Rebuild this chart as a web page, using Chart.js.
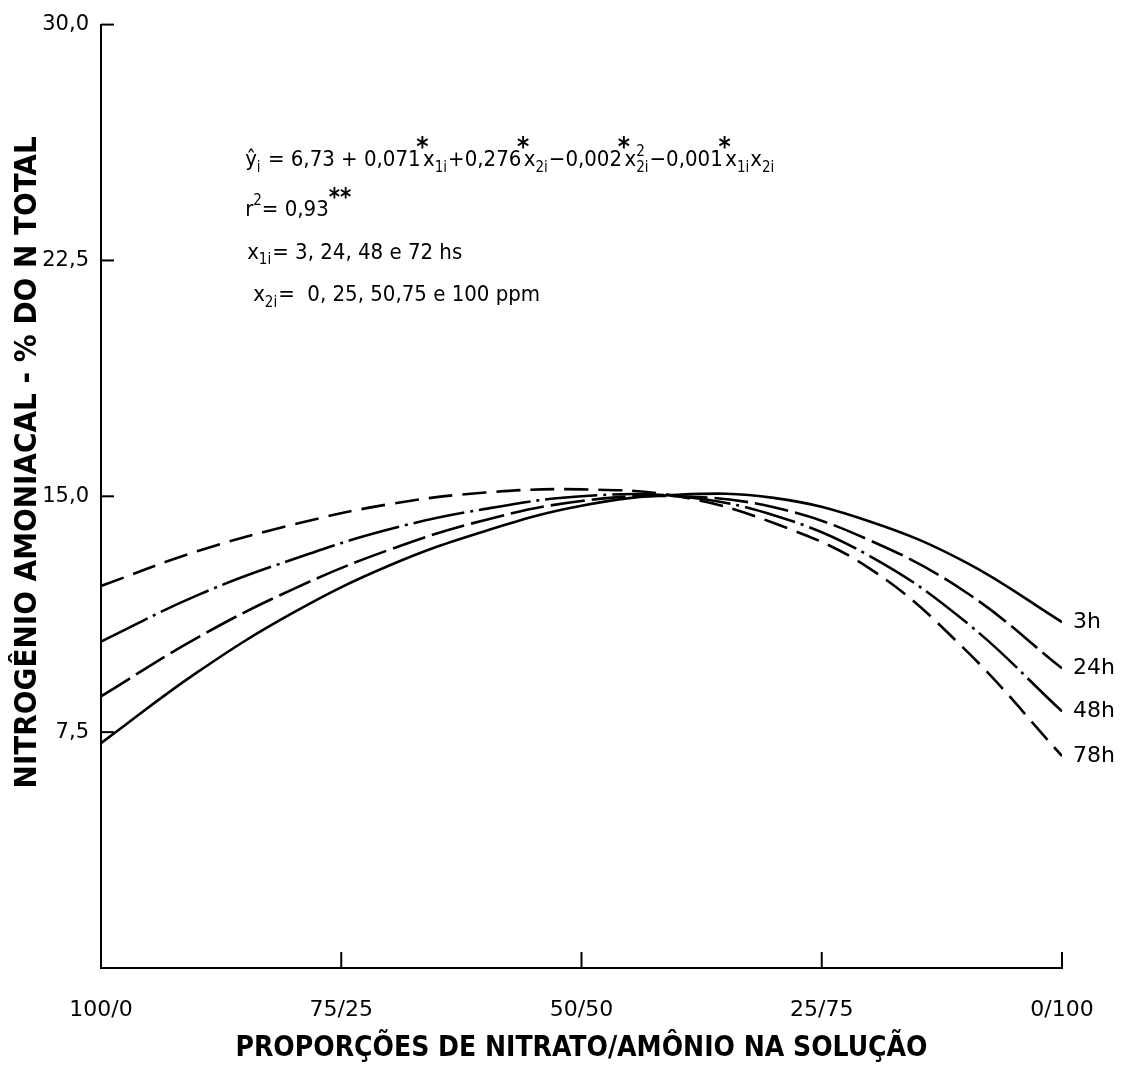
<!DOCTYPE html>
<html><head><meta charset="utf-8">
<script src="https://cdn.jsdelivr.net/npm/chart.js@4"></script>
<style>html,body{margin:0;padding:0;background:#fff}#wrap{width:1130px;height:1066px}</style>
</head><body><div id="wrap"><canvas id="c" width="1130" height="1066"></canvas></div>
<script>
// ---- data ----
const xValues = [0, 10, 20, 30, 40, 50, 60, 70, 80, 90, 100];           // % ammonium
const xTickValues = [0, 25, 50, 75, 100];
const xTickLabels = ['100/0', '75/25', '50/50', '25/75', '0/100'];
const yTickValues = [0, 7.5, 15, 22.5, 30];
const yTickLabels = ['', '7,5', '15,0', '22,5', '30,0'];
const seriesNames = ['3h', '24h', '48h', '78h'];
const s3h  = [7.15, 9.4, 11.3, 12.8, 13.9, 14.7, 15.05, 14.95, 14.2, 12.9, 11.0];
const s24h = [8.64, 10.5, 12.05, 13.3, 14.25, 14.85, 15.0, 14.65, 13.6, 11.95, 9.53];
const s48h = [10.38, 11.85, 13.0, 13.95, 14.6, 15.0, 15.0, 14.4, 13.1, 11.0, 8.16];
const s78h = [12.15, 13.25, 14.1, 14.75, 15.12, 15.22, 15.0, 14.15, 12.7, 10.1, 6.74];
const seriesValues = [s3h, s24h, s48h, s78h];
const dashes = [[], [34, 7], [52, 6, 3, 6], [24, 10]];

const FONT = '"DejaVu Sans", sans-serif';
const NARROW = '"DejaVu Sans Condensed", sans-serif';

const datasets = seriesValues.map((vals, i) => ({
  label: seriesNames[i],
  data: xValues.map((x, j) => ({x: x, y: vals[j]})),
  borderColor: '#000',
  borderWidth: 2.6,
  borderDash: dashes[i],
  pointRadius: 0,
  fill: false,
  tension: 0.4
}));

function drawRich(ctx, x, y, parts, size, fam) {
  let cx = x;
  ctx.textBaseline = 'alphabetic';
  ctx.textAlign = 'left';
  for (const p of parts) {
    const [t, type, t2] = p;
    if (type === 'n') {
      ctx.font = size + 'px ' + fam;
      ctx.fillText(t, cx, y);
      cx += ctx.measureText(t).width;
    } else if (type === 'sub') {
      ctx.font = Math.round(size * 0.68) + 'px ' + fam;
      ctx.fillText(t, cx, y + size * 0.25);
      cx += ctx.measureText(t).width + 1;
    } else if (type === 'sup') {
      ctx.font = Math.round(size * 0.68) + 'px ' + fam;
      ctx.fillText(t, cx, y - size * 0.5);
      cx += ctx.measureText(t).width;
    } else if (type === 'star') {
      ctx.font = 'bold ' + Math.round(size * 1.2) + 'px ' + fam;
      const w = ctx.measureText(t).width;
      ctx.fillText(t, cx - w * 0.35, y - size * 0.45);
      cx += w * 0.2;
    } else if (type === 'bigsup') {
      ctx.font = 'bold ' + Math.round(size * 1.1) + 'px ' + fam;
      ctx.fillText(t, cx, y - size * 0.5);
      cx += ctx.measureText(t).width;
    } else if (type === 'supsub') {
      ctx.font = Math.round(size * 0.68) + 'px ' + fam;
      const w1 = ctx.measureText(t).width, w2 = ctx.measureText(t2).width;
      ctx.fillText(t, cx, y - size * 0.45);
      ctx.fillText(t2, cx, y + size * 0.25);
      cx += Math.max(w1, w2) + 1;
    }
  }
  return cx;
}

const decor = {
  id: 'decor',
  afterDraw(chart) {
    const ctx = chart.ctx;
    const xs = chart.scales.x, ys = chart.scales.y;
    const area = chart.chartArea;
    ctx.save();
    ctx.strokeStyle = '#000';
    ctx.fillStyle = '#000';
    ctx.lineWidth = 2;
    // inward tick marks
    xTickValues.forEach((v, i) => {
      if (i === 0) return;
      const px = xs.getPixelForValue(v);
      ctx.beginPath(); ctx.moveTo(px, area.bottom); ctx.lineTo(px, area.bottom - 16); ctx.stroke();
    });
    yTickValues.forEach((v, i) => {
      if (i === 0) return;
      const py = ys.getPixelForValue(v);
      ctx.beginPath(); ctx.moveTo(area.left, py); ctx.lineTo(area.left + 13, py); ctx.stroke();
    });
    // series labels at curve ends
    ctx.font = '22px ' + FONT;
    ctx.textAlign = 'left';
    ctx.textBaseline = 'middle';
    chart.data.datasets.forEach((ds, i) => {
      const last = ds.data[ds.data.length - 1];
      const px = xs.getPixelForValue(last.x), py = ys.getPixelForValue(last.y);
      ctx.fillText(seriesNames[i], px + 11, py);
    });
    // regression annotation
    const ax = xs.getPixelForValue(15);
    const sz = 22;
    drawRich(ctx, ax, ys.getPixelForValue(25.5), [
      ['ŷ', 'n'], ['i', 'sub'], [' = 6,73 + 0,071', 'n'], ['*', 'star'], ['x', 'n'], ['1i', 'sub'],
      ['+0,276', 'n'], ['*', 'star'], ['x', 'n'], ['2i', 'sub'],
      ['\u22120,002', 'n'], ['*', 'star'], ['x', 'n'], ['2', 'supsub', '2i'],
      ['\u22120,001', 'n'], ['*', 'star'], ['x', 'n'], ['1i', 'sub'], ['x', 'n'], ['2i', 'sub']
    ], sz, NARROW);
    drawRich(ctx, ax, ys.getPixelForValue(23.9), [
      ['r', 'n'], ['2', 'sup'], ['= 0,93', 'n'], ['**', 'bigsup']
    ], sz, NARROW);
    drawRich(ctx, ax + 2, ys.getPixelForValue(22.55), [
      ['x', 'n'], ['1i', 'sub'], ['= 3, 24, 48 e 72 hs', 'n']
    ], sz, NARROW);
    drawRich(ctx, ax + 8, ys.getPixelForValue(21.2), [
      ['x', 'n'], ['2i', 'sub'], ['=  0, 25, 50,75 e 100 ppm', 'n']
    ], sz, NARROW);
    ctx.restore();
  }
};

new Chart(document.getElementById('c'), {
  type: 'line',
  data: { datasets: datasets },
  plugins: [decor],
  options: {
    responsive: false,
    animation: false,
    devicePixelRatio: 1,
    layout: { padding: { left: 0, right: 68, top: 20, bottom: 0 } },
    plugins: { legend: { display: false }, tooltip: { enabled: false } },
    scales: {
      x: {
        type: 'linear', min: 0, max: 100,
        afterBuildTicks: s => { s.ticks = xTickValues.map(v => ({ value: v })); },
        afterFit: s => { s.height = 98; },
        ticks: {
          callback: v => xTickLabels[xTickValues.indexOf(v)],
          font: { family: FONT, size: 22 }, color: '#000', padding: 29, maxRotation: 0, autoSkip: false
        },
        grid: { drawOnChartArea: false, drawTicks: false },
        border: { color: '#000', width: 2 },
        title: {
          display: true, text: 'PROPORÇÕES DE NITRATO/AMÔNIO NA SOLUÇÃO',
          font: { family: NARROW, size: 28, weight: 'bold' }, color: '#000', padding: { top: 0, bottom: 0 }
        }
      },
      y: {
        type: 'linear', min: 0, max: 30,
        afterBuildTicks: s => { s.ticks = yTickValues.map(v => ({ value: v })); },
        afterFit: s => { s.width = 101; },
        ticks: {
          callback: v => yTickLabels[yTickValues.indexOf(v)],
          font: { family: FONT, size: 21 }, color: '#000', padding: 12
        },
        grid: { drawOnChartArea: false, drawTicks: false },
        border: { color: '#000', width: 2 },
        title: {
          display: true, text: '       NITROGÊNIO AMONIACAL - % DO N TOTAL',
          font: { family: NARROW, size: 31, weight: 'bold' }, color: '#000', padding: { top: 9, bottom: 0 }
        }
      }
    }
  }
});
</script>
</body></html>
